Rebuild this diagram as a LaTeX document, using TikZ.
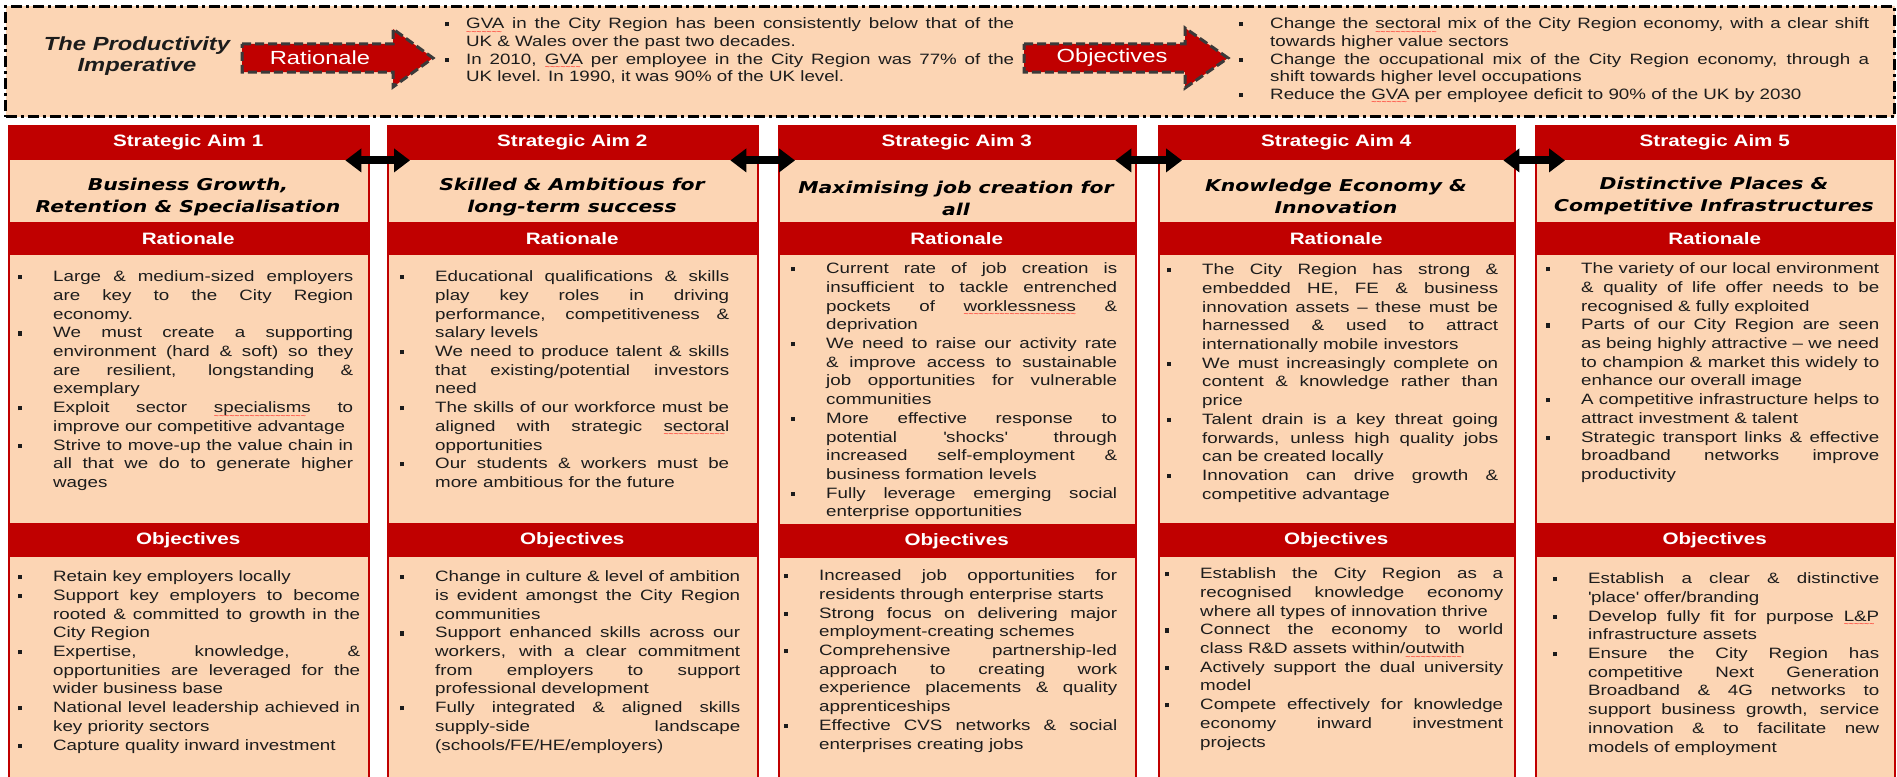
\documentclass[tikz,border=0pt]{standalone}
\usepackage{fontspec}
\setmainfont[FakeStretch=1.25]{Liberation Sans}
\newfontfamily\aimfont[FakeStretch=1.25]{DejaVu Sans}
\usepackage{tikz}
\usetikzlibrary{arrows.meta}

\definecolor{peach}{HTML}{FCD5B4}
\definecolor{aimred}{HTML}{C00000}
\definecolor{ink}{HTML}{1C1C1C}
\definecolor{dashgrey}{HTML}{3A3A3A}

% square bullet hanging in front of each list item
\newlength{\bulletgap}
\setlength{\bulletgap}{35pt}
\newcommand{\bitem}{\par\noindent\hangindent=\bulletgap\hangafter=1%
  \makebox[\bulletgap][l]{\rule[0.15em]{0.28em}{0.28em}}\ignorespaces}
% red wavy underline under flagged words
\newcommand{\spell}[1]{\setbox0=\hbox{#1}\rlap{\color{red}\raisebox{-5.5pt}[0pt][0pt]{\hbox to \wd0{\fontsize{7}{7}\selectfont\leaders\hbox{\textasciitilde}\hfil}}}\box0\relax}
\newcommand{\tq}{\textquotesingle}
\hyphenpenalty=10000
\exhyphenpenalty=10000

\begin{document}
\begin{tikzpicture}[x=1pt,y=-1pt,
  aimbar/.style={fill=aimred,text=white,inner sep=0pt,anchor=north west,font=\fontsize{16.5}{18}\selectfont\bfseries},
  aimtitle/.style={align=center,inner sep=0pt,text=black,font=\aimfont\fontsize{16.3}{22}\selectfont\bfseries\itshape},
  bullets/.style={anchor=base west,inner sep=0pt,align=justify,text=ink,font=\fontsize{15}{18.7}\selectfont},
  column/.style={draw=aimred,line width=1.5pt,fill=peach,anchor=north west,inner sep=0pt,minimum height=680pt},
  link/.style={line width=8pt,{Triangle[length=16pt 0 0,width=23pt 0 0]}-{Triangle[length=16pt 0 0,width=23pt 0 0]}},
  tag/.style={fill=aimred,draw=dashgrey,line width=3pt,dash pattern=on 9pt off 4pt,line join=miter},
  tagtext/.style={text=white,inner sep=0pt,font=\fontsize{19}{20}\selectfont}]
\useasboundingbox (0,0) rectangle (1897,776);
\clip (0,0) rectangle (1897,776);
\fill[white] (0,0) rectangle (1897,776);

% top banner
\node[draw=black,fill=peach,line width=3pt,dash pattern=on 11pt off 4pt on 3pt off 4pt,anchor=north west,inner sep=0pt,minimum width=1889pt,minimum height=110pt] (banner) at (4,5) {};
\node[align=center,text=ink,font=\fontsize{19}{20.5}\selectfont\bfseries\itshape] (imperative) at (137,56) {The Productivity\\Imperative};
\draw[tag] (242,44) -- (393,44) -- (393,29) -- (433,58) -- (393,87) -- (393,72) -- (242,72) -- cycle;
\node[tagtext] (rattag) at (320,58) {Rationale};
\node[bullets,text width=569pt,font=\fontsize{15}{17.7}\selectfont] (gva) at (445,11) {\setlength{\bulletgap}{21pt}%
\bitem \spell{GVA} in the City Region has been consistently below that of the\linebreak UK \& Wales over the past two decades.
\bitem In 2010, \spell{GVA} per employee in the City Region was 77\% of the\linebreak UK level. In 1990, it was 90\% of the UK level.\par};
\draw[tag] (1024,44) -- (1185,44) -- (1185,28) -- (1228,58) -- (1185,88) -- (1185,72) -- (1024,72) -- cycle;
\node[tagtext] (objtag) at (1112,58) {Objectives};
\node[bullets,text width=630pt,font=\fontsize{15}{17.7}\selectfont] (mix) at (1239,11) {\setlength{\bulletgap}{31pt}%
\bitem Change the \spell{sectoral} mix of the City Region economy, with a clear shift\linebreak towards higher value sectors
\bitem Change the occupational mix of the City Region economy, through a\linebreak shift towards higher level occupations
\bitem Reduce the \spell{GVA} per employee deficit to 90\% of the UK by 2030\par};

% aim 1
\node[column,minimum width=360pt] (col1) at (8,125) {};
\node[aimbar,minimum width=360pt,minimum height=35pt] (aim1) at (col1.north west) {Strategic Aim 1};
\node[aimtitle] (title1) at (188,197) {Business Growth,\\Retention \& Specialisation};
\node[aimbar,minimum width=360pt,minimum height=33pt] (rat1) at (8,222) {Rationale};
\node[bullets,text width=335pt] (ratlist1) at (18,263) {%
\bitem Large \& medium-sized employers\linebreak are key to the City Region\linebreak economy.
\bitem We must create a supporting\linebreak environment (hard \& soft) so they\linebreak are resilient, longstanding \&\linebreak exemplary
\bitem Exploit sector \spell{specialisms} to\linebreak improve our competitive advantage
\bitem Strive to move-up the value chain in\linebreak all that we do to generate higher\linebreak wages\par};
\node[aimbar,minimum width=360pt,minimum height=34pt] (obj1) at (8,523) {Objectives};
\node[bullets,text width=342pt] (objlist1) at (18,563) {%
\bitem Retain key employers locally
\bitem Support key employers to become\linebreak rooted \& committed to growth in the\linebreak City Region
\bitem Expertise, knowledge, \&\linebreak opportunities are leveraged for the\linebreak wider business base
\bitem National level leadership achieved in\linebreak key priority sectors
\bitem Capture quality inward investment\par};

% aim 2
\node[column,minimum width=370pt] (col2) at (387,125) {};
\node[aimbar,minimum width=370pt,minimum height=35pt] (aim2) at (col2.north west) {Strategic Aim 2};
\node[aimtitle] (title2) at (572,197) {Skilled \& Ambitious for\\long-term success};
\node[aimbar,minimum width=370pt,minimum height=33pt] (rat2) at (387,222) {Rationale};
\node[bullets,text width=329pt] (ratlist2) at (400,263) {%
\bitem Educational qualifications \& skills\linebreak play key roles in driving\linebreak performance, competitiveness \&\linebreak salary levels
\bitem We need to produce talent \& skills\linebreak that existing/potential investors\linebreak need
\bitem The skills of our workforce must be\linebreak aligned with strategic \spell{sectoral}\linebreak opportunities
\bitem Our students \& workers must be\linebreak more ambitious for the future\par};
\node[aimbar,minimum width=370pt,minimum height=34pt] (obj2) at (387,523) {Objectives};
\node[bullets,text width=340pt] (objlist2) at (400,563) {%
\bitem Change in culture \& level of ambition\linebreak is evident amongst the City Region\linebreak communities
\bitem Support enhanced skills across our\linebreak workers, with a clear commitment\linebreak from employers to support\linebreak professional development
\bitem Fully integrated \& aligned skills\linebreak supply-side landscape\linebreak (schools/FE/HE/employers)\par};

% aim 3
\node[column,minimum width=357pt] (col3) at (778,125) {};
\node[aimbar,minimum width=357pt,minimum height=35pt] (aim3) at (col3.north west) {Strategic Aim 3};
\node[aimtitle] (title3) at (956,198) {Maximising job creation for\\all};
\node[aimbar,minimum width=357pt,minimum height=33pt] (rat3) at (778,222) {Rationale};
\node[bullets,text width=326pt] (ratlist3) at (791,255) {%
\bitem Current rate of job creation is\linebreak insufficient to tackle entrenched\linebreak pockets of \spell{worklessness} \&\linebreak deprivation
\bitem We need to raise our activity rate\linebreak \& improve access to sustainable\linebreak job opportunities for vulnerable\linebreak communities
\bitem More effective response to\linebreak potential \tq shocks\tq{} through\linebreak increased self-employment \&\linebreak business formation levels
\bitem Fully leverage emerging social\linebreak enterprise opportunities\par};
\node[aimbar,minimum width=357pt,minimum height=34pt] (obj3) at (778,524) {Objectives};
\node[bullets,text width=333pt] (objlist3) at (784,562) {%
\bitem Increased job opportunities for\linebreak residents through enterprise starts
\bitem Strong focus on delivering major\linebreak employment-creating schemes
\bitem Comprehensive partnership-led\linebreak approach to creating work\linebreak experience placements \& quality\linebreak apprenticeships
\bitem Effective CVS networks \& social\linebreak enterprises creating jobs\par};

% aim 4
\node[column,minimum width=356pt] (col4) at (1158,125) {};
\node[aimbar,minimum width=356pt,minimum height=35pt] (aim4) at (col4.north west) {Strategic Aim 4};
\node[aimtitle] (title4) at (1336,196) {Knowledge Economy \&\\Innovation};
\node[aimbar,minimum width=356pt,minimum height=33pt] (rat4) at (1158,222) {Rationale};
\node[bullets,text width=331pt] (ratlist4) at (1167,256) {%
\bitem The City Region has strong \&\linebreak embedded HE, FE \& business\linebreak innovation assets -- these must be\linebreak harnessed \& used to attract\linebreak internationally mobile investors
\bitem We must increasingly complete on\linebreak content \& knowledge rather than\linebreak price
\bitem Talent drain is a key threat going\linebreak forwards, unless high quality jobs\linebreak can be created locally
\bitem Innovation can drive growth \&\linebreak competitive advantage\par};
\node[aimbar,minimum width=356pt,minimum height=34pt] (obj4) at (1158,523) {Objectives};
\node[bullets,text width=338pt] (objlist4) at (1165,560) {%
\bitem Establish the City Region as a\linebreak recognised knowledge economy\linebreak where all types of innovation thrive
\bitem Connect the economy to world\linebreak class R\&D assets within/\spell{outwith}
\bitem Actively support the dual university\linebreak model
\bitem Compete effectively for knowledge\linebreak economy inward investment\linebreak projects\par};

% aim 5
\node[column,minimum width=359pt] (col5) at (1535,125) {};
\node[aimbar,minimum width=359pt,minimum height=35pt] (aim5) at (col5.north west) {Strategic Aim 5};
\node[aimtitle] (title5) at (1714,196) {Distinctive Places \&\\Competitive Infrastructures};
\node[aimbar,minimum width=359pt,minimum height=33pt] (rat5) at (1535,222) {Rationale};
\node[bullets,text width=333pt] (ratlist5) at (1546,255) {%
\bitem The variety of our local environment\linebreak \& quality of life offer needs to be\linebreak recognised \& fully exploited
\bitem Parts of our City Region are seen\linebreak as being highly attractive -- we need\linebreak to champion \& market this widely to\linebreak enhance our overall image
\bitem A competitive infrastructure helps to\linebreak attract investment \& talent
\bitem Strategic transport links \& effective\linebreak broadband networks improve\linebreak productivity\par};
\node[aimbar,minimum width=359pt,minimum height=34pt] (obj5) at (1535,523) {Objectives};
\node[bullets,text width=326pt] (objlist5) at (1553,565) {%
\bitem Establish a clear \& distinctive\linebreak \tq place\tq{} offer/branding
\bitem Develop fully fit for purpose \spell{L\&P}\linebreak infrastructure assets
\bitem Ensure the City Region has\linebreak competitive Next Generation\linebreak Broadband \& 4G networks to\linebreak support business growth, service\linebreak innovation \& to facilitate new\linebreak models of employment\par};

% links between the aims
\draw[link] ([xshift=-23pt]aim1.south east) -- ([xshift=23pt]aim2.south west);
\draw[link] ([xshift=-27pt]aim2.south east) -- ([xshift=17pt]aim3.south west);
\draw[link] ([xshift=-20pt]aim3.south east) -- ([xshift=24pt]aim4.south west);
\draw[link] ([xshift=-11pt]aim4.south east) -- ([xshift=30pt]aim5.south west);
\end{tikzpicture}
\end{document}
